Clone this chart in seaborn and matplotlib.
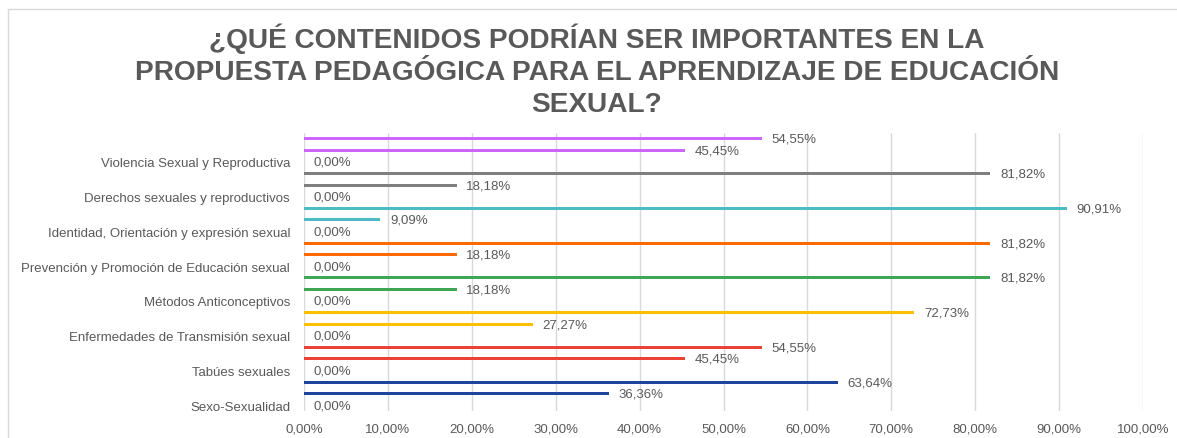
import numpy as np
import pandas as pd
import matplotlib
matplotlib.use("Agg")
import matplotlib.pyplot as plt
from matplotlib.patches import Rectangle
import seaborn as sns

categorias = [
    "Violencia Sexual y Reproductiva",
    "Derechos sexuales y reproductivos",
    "Identidad, Orientación y expresión sexual",
    "Prevención y Promoción de Educación sexual",
    "Métodos Anticonceptivos",
    "Enfermedades de Transmisión sexual",
    "Tabúes sexuales",
    "Sexo-Sexualidad",
]
serie_a = [54.55, 81.82, 90.91, 81.82, 81.82, 72.73, 54.55, 63.64]
serie_b = [45.45, 18.18, 9.09, 18.18, 18.18, 27.27, 45.45, 36.36]
serie_c = [0.00, 0.00, 0.00, 0.00, 0.00, 0.00, 0.00, 0.00]
series = ["A", "B", "C"]
colores = ["#CC66FF", "#7F7F7F", "#4BBCC4", "#FF6A00",
           "#3DA755", "#FFC000", "#EA4335", "#1F449C"]
ticks_x = np.arange(0, 101, 10)

titulo = ("¿QUÉ CONTENIDOS PODRÍAN SER IMPORTANTES EN LA\n"
          "PROPUESTA PEDAGÓGICA PARA EL APRENDIZAJE DE EDUCACIÓN\n"
          "SEXUAL?")

df = pd.DataFrame({
    "categoria": categorias * 3,
    "serie": np.repeat(series, len(categorias)),
    "valor": serie_a + serie_b + serie_c,
})

sns.set_style("white")
plt.rcParams["font.family"] = ["Liberation Sans", "DejaVu Sans"]
gris = "#595959"

fig = plt.figure(figsize=(11.77, 4.39), dpi=100)
ax = fig.add_axes([304 / 1177, 1 - 412 / 439, (1143 - 304) / 1177, (412 - 134) / 439])

sns.barplot(data=df, y="categoria", x="valor", hue="serie", hue_order=series,
            order=categorias, orient="h", width=1.0, dodge=True, ax=ax,
            legend=False, errorbar=None)

grosor = 0.085
for cont in ax.containers:
    for i, barra in enumerate(cont.patches):
        cy = barra.get_y() + barra.get_height() / 2
        barra.set_height(grosor)
        barra.set_y(cy - grosor / 2)
        barra.set_facecolor(colores[i])
        barra.set_edgecolor("none")
    etiquetas = [f"{v:.2f}%".replace(".", ",") for v in cont.datavalues]
    ax.bar_label(cont, labels=etiquetas, padding=7, fontsize=9.5, color=gris)

ax.set_xlim(0, 100)
ax.set_ylim(len(categorias) - 0.5, -0.5)
ax.set_xticks(ticks_x)
ax.set_xticklabels([f"{t:.2f}%".replace(".", ",") for t in ticks_x])
ax.set_yticks(np.arange(len(categorias)) + 1 / 3)
ax.set_yticklabels(categorias)
ax.tick_params(axis="both", length=0, labelsize=9.5, labelcolor=gris)
ax.tick_params(axis="y", pad=10)
ax.tick_params(axis="x", pad=8)
ax.grid(axis="x", color="#D9D9D9", linewidth=1)
ax.set_axisbelow(True)
for lado in ax.spines.values():
    lado.set_visible(False)
ax.set_xlabel("")
ax.set_ylabel("")

fig.text(597 / 1177, 1 - 24 / 439, titulo, ha="center", va="top",
         fontsize=20.2, fontweight="bold", color=gris, linespacing=1.28)

fig.patches.append(Rectangle((8 / 1177, -0.1), 1.2, 1.1 - 10 / 439,
                             transform=fig.transFigure, fill=False,
                             edgecolor="#D9D9D9", linewidth=1))

fig.savefig("out.png", dpi=100)
